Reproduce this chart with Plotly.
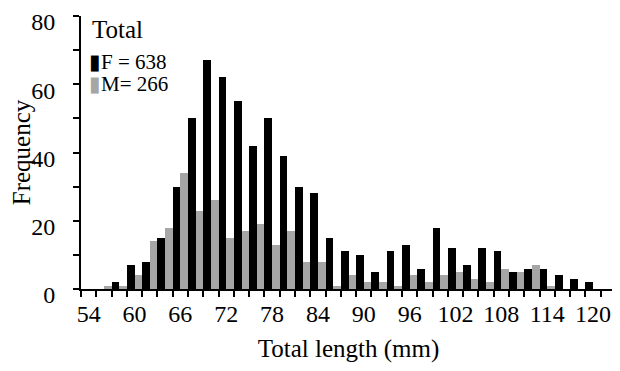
import plotly.graph_objects as go

# Total length classes (mm), 2-mm bins
lengths = [54, 56, 58, 60, 62, 64, 66, 68, 70, 72, 74, 76, 78, 80, 82, 84, 86, 88,
           90, 92, 94, 96, 98, 100, 102, 104, 106, 108, 110, 112, 114, 116, 118, 120]
# Female frequencies
female = [0, 0, 2, 7, 8, 15, 30, 50, 67, 62, 55, 42, 50, 39, 30, 28, 15, 11,
          10, 5, 11, 13, 6, 18, 12, 7, 12, 11, 5, 6, 6, 4, 3, 2]
# Male frequencies
male = [0, 1, 1, 4, 14, 18, 34, 23, 26, 15, 17, 19, 13, 17, 8, 8, 1, 4,
        2, 2, 1, 4, 2, 4, 5, 3, 2, 6, 5, 7, 1, 0, 0, 0]

x_tick_labels = [54, 60, 66, 72, 78, 84, 90, 96, 102, 108, 114, 120]
x_bin_edges = [53, 55, 57, 59, 61, 63, 65, 67, 69, 71, 73, 75, 77, 79, 81, 83, 85, 87,
               89, 91, 93, 95, 97, 99, 101, 103, 105, 107, 109, 111, 113, 115, 117, 119, 121, 123]
y_ticks = [0, 10, 20, 30, 40, 50, 60, 70, 80]
y_tick_text = ["0", "", "20", "", "40", "", "60", "", "80"]
legend_title = "Total"
name_f = "F = 638"
name_m = "M= 266"

BLACK = "#000000"
GRAY = "#a6a6a6"
FONT = "Liberation Serif"
X_RANGE = [53, 123]

fig = go.Figure()
fig.add_trace(go.Bar(x=lengths, y=female, name=name_f, marker=dict(color=BLACK, line=dict(width=0))))
fig.add_trace(go.Bar(x=lengths, y=male, name=name_m, marker=dict(color=GRAY, line=dict(width=0))))

# page body has an 8px margin: figure is shrunk/shifted to compensate
fig.update_layout(
    width=612, height=363,
    margin=dict(l=73, r=4, t=8, b=82, autoexpand=False),
    barmode="group", bargap=0, bargroupgap=0,
    plot_bgcolor="white", paper_bgcolor="white",
    showlegend=False,
    font=dict(family=FONT, color="black", size=24),
    xaxis=dict(
        range=X_RANGE,
        tickmode="array", tickvals=x_tick_labels, ticktext=[str(v) for v in x_tick_labels],
        ticks="outside", ticklen=2, tickwidth=1, tickcolor="rgba(255,255,255,0)",
        showgrid=False, zeroline=False, ticklabeloverflow="allow",
        showline=True, linecolor="#000000", linewidth=2,
        tickfont=dict(family=FONT, size=24),
        title=dict(text="Total length (mm)", font=dict(family=FONT, size=25), standoff=14),
    ),
    xaxis2=dict(
        overlaying="x", matches="x", side="bottom", anchor="y",
        range=X_RANGE,
        tickmode="array", tickvals=x_bin_edges,
        ticks="outside", ticklen=6, tickwidth=2, tickcolor="#000000",
        showticklabels=False, showgrid=False, zeroline=False,
        showline=True, linecolor="#000000", linewidth=2,
    ),
    yaxis=dict(
        range=[0, 80],
        tickmode="array", tickvals=y_ticks, ticktext=y_tick_text,
        ticks="outside", ticklen=6, tickwidth=2, tickcolor="#000000",
        showgrid=False, zeroline=False, ticklabeloverflow="allow",
        showline=True, linecolor="#000000", linewidth=2,
        tickfont=dict(family=FONT, size=24),
        ticklabelstandoff=13, ticklabelshift=6,
        title=dict(text="Frequency", font=dict(family=FONT, size=25), standoff=2),
    ),
)

# invisible helper trace so the tick-only overlay axis is drawn
fig.add_trace(go.Scatter(x=X_RANGE, y=[0, 0], xaxis="x2", yaxis="y", mode="lines",
                         line=dict(width=0), hoverinfo="skip", showlegend=False))

fig.add_annotation(xref="paper", yref="paper", x=0.017, y=0.95, xanchor="left", yanchor="middle",
                   text=legend_title, showarrow=False, font=dict(family=FONT, size=25, color="black"))
fig.add_annotation(xref="paper", yref="paper", x=0.012, y=0.833, xanchor="left", yanchor="middle",
                   text=f"<span style='color:{BLACK}'>▮</span>{name_f}", showarrow=False,
                   font=dict(family=FONT, size=21, color="black"))
fig.add_annotation(xref="paper", yref="paper", x=0.012, y=0.752, xanchor="left", yanchor="middle",
                   text=f"<span style='color:{GRAY}'>▮</span>{name_m}", showarrow=False,
                   font=dict(family=FONT, size=21, color="black"))

fig.write_html("out.html")
